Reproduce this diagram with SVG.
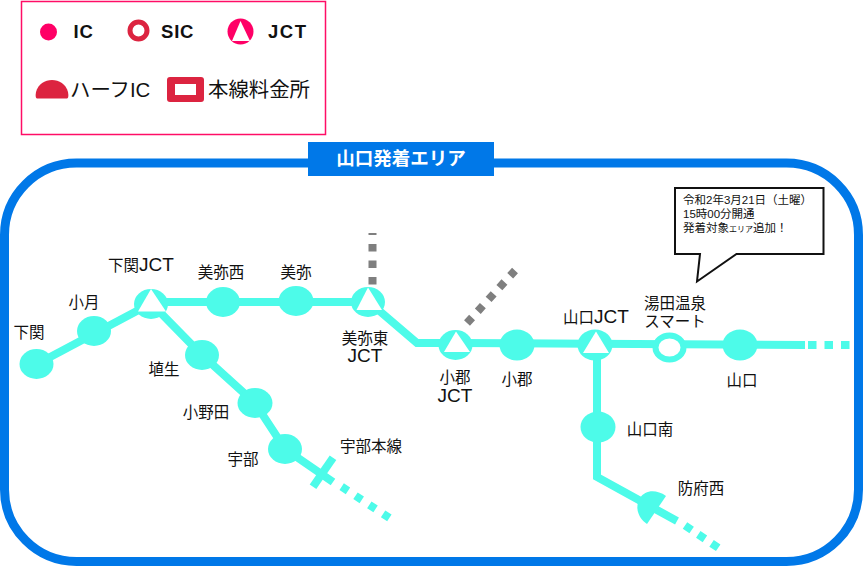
<svg xmlns="http://www.w3.org/2000/svg" width="863" height="566" viewBox="0 0 863 566">
<style>
text{font-family:"Liberation Sans","Noto Sans CJK JP",sans-serif;fill:#111;font-size:15.500px}
.n{fill:#4dfbe9}
.l{fill:none;stroke:#4dfbe9;stroke-width:8}
.g{fill:none;stroke:#7f7f7f;stroke-width:8}
.w{fill:#fff}
.r{fill:#dc2440}
.b{font-weight:bold;font-size:18.500px;letter-spacing:.8px}
.m{text-anchor:middle}
.c{font-size:11.500px}
.h{font-size:20.400px}
.j{font-size:19px}
</style>
<rect width="863" height="566" fill="#fff"/>
<rect id="frame" x="4.500" y="163" width="854" height="398.500" rx="72" fill="none" stroke="#0078e8" stroke-width="9"/>
<g id="title"><rect x="308" y="142" width="186" height="34" fill="#0078e8"/><text x="401" y="165" class="m" style="fill:#fff;font-weight:700;font-size:18.500px">山口発着エリア</text></g>
<g id="legend">
<rect x="21.500" y="1.500" width="304" height="133" fill="#fff" stroke="#ff0d66" stroke-width="1.500"/>
<circle cx="48.500" cy="32" r="8.500" fill="#ff0066"/>
<text x="73.500" y="38" class="b">IC</text>
<circle cx="138.500" cy="30.500" r="8.500" fill="#fff" stroke="#dc2440" stroke-width="5"/>
<text x="161" y="38" class="b">SIC</text>
<circle cx="240.500" cy="31.500" r="13" fill="#ff0066"/><path d="M240.500 21L250 41H232Z" fill="#fff"/>
<text x="268" y="38" class="b" style="letter-spacing:1.500px">JCT</text>
<path class="r" d="M37 98.500Q35 98 36 92C38 84 45 80 52 80C59 80 66 84 68 92Q69 98 67 98.500Z"/>
<text x="70" y="97" class="h">ハーフIC</text>
<rect x="167" y="77" width="37" height="25" rx="3" class="r"/><rect x="175" y="84" width="21" height="11" class="w"/>
<text x="208" y="97" class="h">本線料金所</text>
</g>
<g id="connectors">
<path class="l" d="M37 364L150 304"/>
<path class="l" d="M150 302H369L417 343H456L805 345"/>
<path class="l" d="M150 302L202 355L255 403L285 449L333 482"/>
<path class="l" d="M333 457.700L313 486.700"/>
<path class="l" d="M341.700 486.700L391 519" stroke-dasharray="7.500 9"/>
<path class="l" d="M597 343V477L677 521"/>
<path class="l" d="M685 525.500L720 549" stroke-dasharray="8 8"/>
<path class="l" d="M808 345H850" stroke-dasharray="8.500 8"/>
<path class="g" d="M372.500 284.500V233" stroke-dasharray="7.500 9"/>
<path class="g" d="M467 323L515 270.500" stroke-dasharray="7.500 8.500"/>
</g>
<g id="n-shimonoseki"><ellipse class="n" cx="36.500" cy="364" rx="17" ry="15"/><text x="29" y="338" class="m">下関</text></g>
<g id="n-ozuki"><ellipse class="n" cx="94" cy="331" rx="17" ry="15"/><text x="84" y="308" class="m">小月</text></g>
<g id="n-shimonoseki-jct"><ellipse class="n" cx="151" cy="304" rx="17" ry="15"/><path class="w" d="M151 289L166 311.500H138Z"/><text x="141" y="270.500" class="m">下関<tspan class="j">JCT</tspan></text></g>
<g id="n-minenishi"><ellipse class="n" cx="223" cy="302" rx="17" ry="15"/><text x="221" y="278" class="m">美弥西</text></g>
<g id="n-mine"><ellipse class="n" cx="296" cy="301" rx="17.500" ry="15"/><text x="296" y="278" class="m">美弥</text></g>
<g id="n-minehigashi-jct"><ellipse class="n" cx="368" cy="302" rx="17" ry="15"/><path class="w" d="M368 287.500L382 310H356.500Z"/><text y="344" class="m"><tspan x="365">美弥東</tspan><tspan x="365" dy="18" class="j">JCT</tspan></text></g>
<g id="n-ogori-jct"><ellipse class="n" cx="455.500" cy="345" rx="17" ry="15"/><path class="w" d="M456 331.500L470 352H444Z"/><text y="382.500" class="m"><tspan x="455">小郡</tspan><tspan x="455" dy="19.500" class="j">JCT</tspan></text></g>
<g id="n-ogori"><ellipse class="n" cx="517" cy="345" rx="17.500" ry="15.500"/><text x="517" y="385" class="m">小郡</text></g>
<g id="n-yamaguchi-jct"><ellipse class="n" cx="595" cy="345" rx="17.500" ry="15.500"/><path class="w" d="M596 331.500L609 353H583Z"/><text x="596" y="322.500" class="m">山口<tspan class="j">JCT</tspan></text></g>
<g id="n-yuda"><ellipse cx="669.500" cy="347.500" rx="14" ry="12" fill="#fff" stroke="#4dfbe9" stroke-width="6"/><text y="309" class="m"><tspan x="675">湯田温泉</tspan><tspan x="675" dy="18">スマート</tspan></text></g>
<g id="n-yamaguchi"><ellipse class="n" cx="740" cy="345" rx="17.500" ry="15.500"/><text x="742" y="386" class="m">山口</text></g>
<g id="n-habu"><ellipse class="n" cx="202" cy="355" rx="17" ry="15"/><text x="164" y="375" class="m">埴生</text></g>
<g id="n-onoda"><ellipse class="n" cx="255" cy="403" rx="17.500" ry="15"/><text x="206" y="418" class="m">小野田</text></g>
<g id="n-ube"><ellipse class="n" cx="285" cy="449" rx="17" ry="15"/><text x="243" y="465" class="m">宇部</text></g>
<g id="n-ubehonsen"><text x="371" y="452" class="m">宇部本線</text></g>
<g id="n-yamaguchiminami"><ellipse class="n" cx="598" cy="427" rx="17.500" ry="15.500"/><text x="650" y="435" class="m">山口南</text></g>
<g id="n-hofunishi"><path class="n" d="M666 496C656 489 645 490 640 498C634 508 639 519 647 524Z"/><text x="701" y="494" class="m">防府西</text></g>
<g id="callout"><path d="M675 188H823.500V254H736.500L697 281.500L700 254H675Z" fill="#fff" stroke="#111" stroke-width="2"/>
<text y="204" class="c"><tspan x="683">令和2年3月21日（土曜）</tspan><tspan x="683" dy="14">15時00分開通</tspan><tspan x="683" dy="13.500">発着対象<tspan style="font-size:8px">エリア</tspan>追加！</tspan></text></g>
</svg>
